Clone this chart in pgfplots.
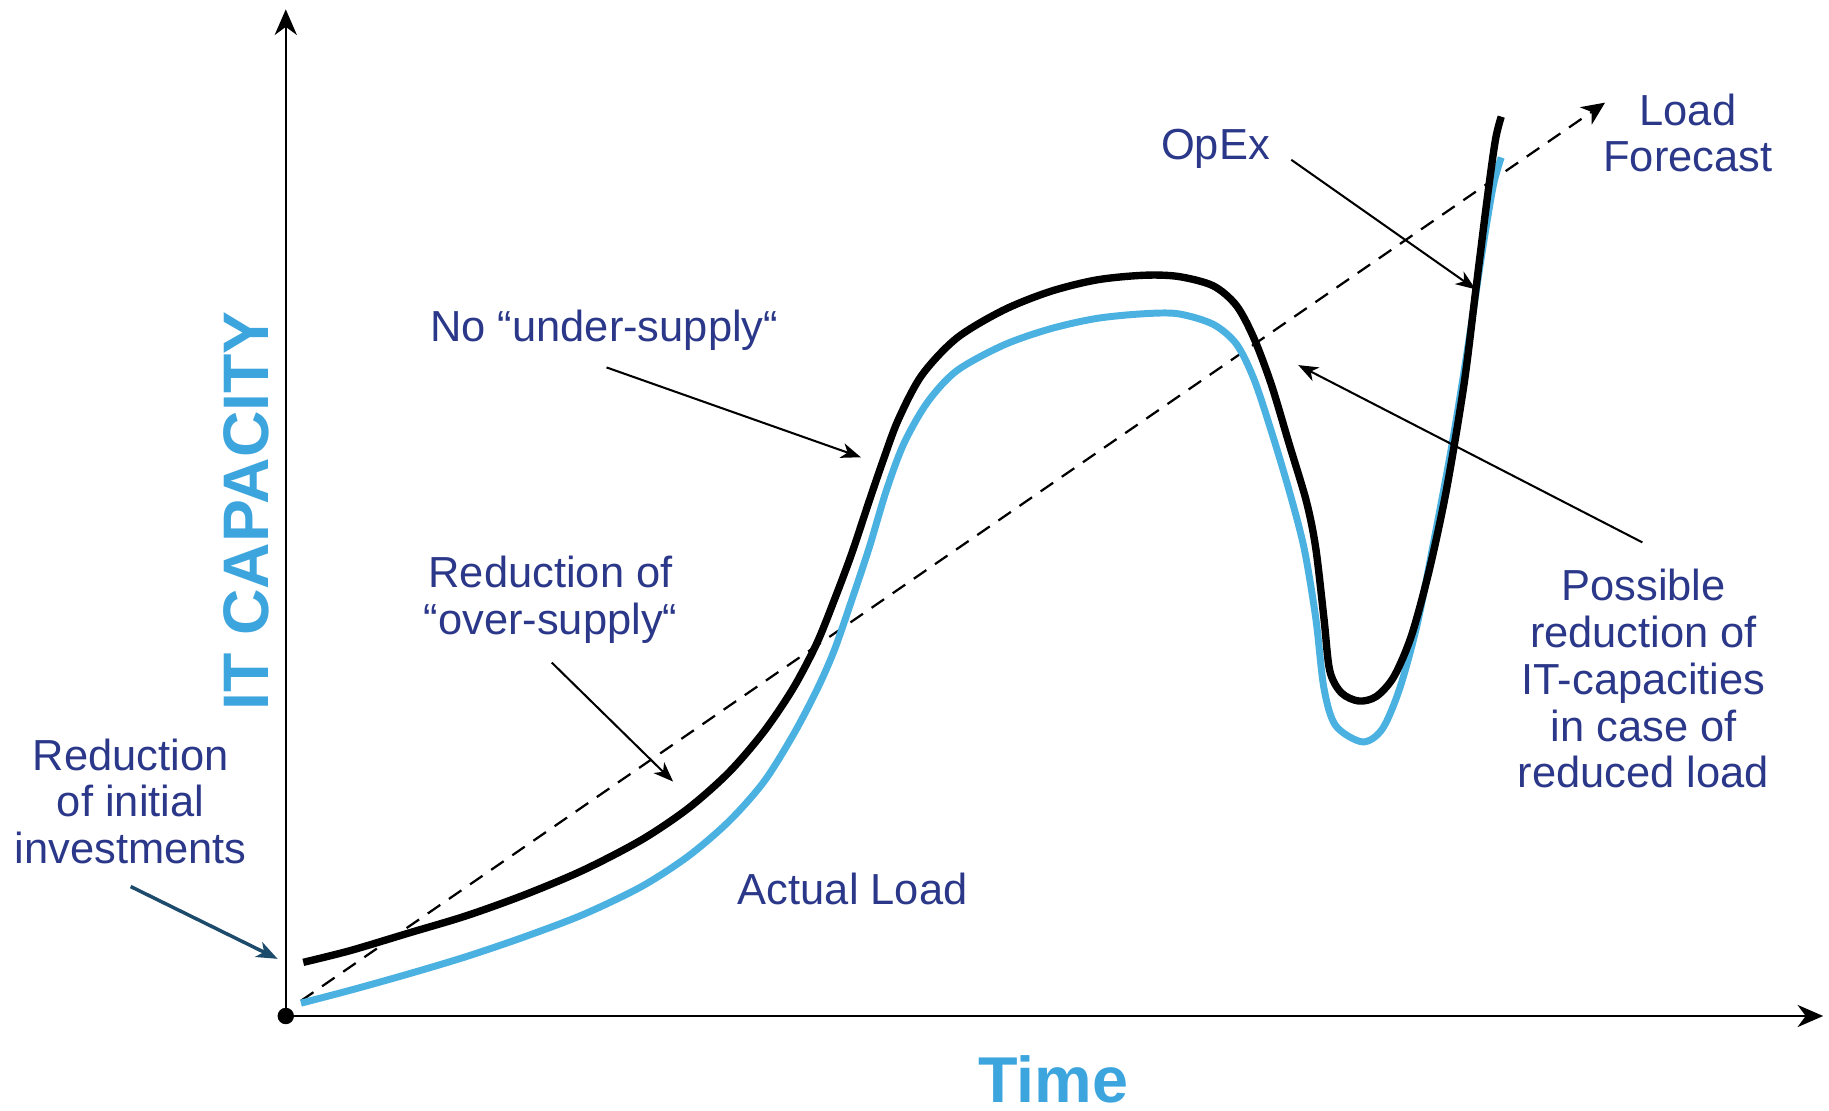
\documentclass[border=0pt]{standalone}
\usepackage{fontspec}
\setmainfont{Liberation Sans}
\usepackage{pgfplots}
\pgfplotsset{compat=1.18}
\usetikzlibrary{arrows.meta}
\definecolor{navy}{HTML}{2B3889}
\definecolor{capblue}{HTML}{3DA5DD}
\definecolor{curveblue}{HTML}{4BB1E1}
\definecolor{teal}{HTML}{1D4B6C}
\begin{document}
\begin{tikzpicture}
\begin{axis}[scale only axis, width=15.68cm, height=9.52cm,
  xmin=0, xmax=1568, ymin=0, ymax=952, y dir=reverse,
  hide axis, clip=false]
\path[draw=none] (axis cs:0,0) rectangle (axis cs:1568,952);
% axes
\draw[line width=0.6pt, -{Stealth[length=2.2mm,width=1.9mm,inset=0.7mm]}] (axis cs:245,871) -- (axis cs:245,8);
\draw[line width=0.6pt, -{Stealth[length=2.2mm,width=1.9mm,inset=0.7mm]}] (axis cs:245,871) -- (axis cs:1563,871);
\addplot[only marks, mark=*, mark size=1.8pt, black] coordinates {(245,871)};
% dashed forecast
\addplot[black, line width=0.55pt, dash pattern=on 1.3mm off 0.9mm, -{Stealth[length=2mm,width=1.8mm,inset=0.6mm]}] coordinates {(258,858) (1376,88)};
% blue actual load
\addplot[curveblue, line width=1.7pt, smooth] coordinates {
(258,860) (300,849) (350,835) (400,820) (450,803) (500,784) (550,760) (590,734)
(625,704) (655,670) (680,630) (700,592) (715,558) (730,515) (745,470) (760,420) (775,380)
(795,345) (820,318) (860,296) (900,282) (940,273) (980,269) (1010,269) (1040,278)
(1060,295) (1075,325) (1090,370) (1105,420) (1118,470) (1128,530) (1135,590)
(1145,622) (1168,636) (1185,625) (1200,590) (1215,535) (1230,460) (1245,380)
(1258,300) (1270,220) (1280,160) (1287,135)};
% black capacity
\addplot[black, line width=1.8pt, smooth] coordinates {
(260,825) (300,815) (350,800) (400,785) (450,767) (500,746) (550,720) (590,693)
(625,662) (655,627) (680,590) (700,552) (715,515) (730,475) (745,430) (757,395) (770,360)
(790,322) (820,290) (860,266) (900,250) (940,240) (980,236) (1010,237) (1040,245)
(1060,262) (1075,290) (1090,330) (1105,380) (1120,430) (1128,470) (1135,530)
(1140,575) (1150,594) (1165,601) (1180,597) (1195,580) (1210,545) (1225,490)
(1240,420) (1255,330) (1265,250) (1275,170) (1282,120) (1287,100)};
% annotation arrows
\tikzset{ann/.style={line width=0.5pt, -{Stealth[length=1.7mm,width=1.3mm,inset=0.5mm]}}}
\draw[ann] (axis cs:1107,137) -- (axis cs:1265,248);
\draw[ann] (axis cs:520,315) -- (axis cs:738,392);
\draw[ann] (axis cs:473,568) -- (axis cs:577,670);
\draw[ann] (axis cs:1408,465) -- (axis cs:1113,313);
\draw[teal, line width=0.85pt, -{Stealth[length=1.8mm,width=1.4mm,inset=0.5mm]}] (axis cs:112,760) -- (axis cs:238,822);
% texts
\tikzset{lbl/.style={text=navy, align=center, inner sep=0pt, font=\fontsize{10.6}{11.4}\selectfont}}
\node[lbl] at (axis cs:1042,128) {OpEx};
\node[lbl] at (axis cs:1447,114) {Load\\Forecast};
\node[lbl] at (axis cs:518,283) {No “under-supply“};
\node[lbl] at (axis cs:472,514) {Reduction of\\“over-supply“};
\node[lbl] at (axis cs:112,687) {Reduction\\of initial\\investments};
\node[lbl] at (axis cs:731,762) {Actual Load};
\node[lbl] at (axis cs:1409,582) {Possible\\reduction of\\IT-capacities\\in case of\\reduced load};
\node[text=capblue, inner sep=0pt, rotate=90, font=\fontsize{15.7}{17}\selectfont\bfseries] at (axis cs:211,438) {IT CAPACITY};
\node[text=capblue, inner sep=0pt, font=\fontsize{15.8}{17}\selectfont\bfseries] at (axis cs:903,925) {Time};
\end{axis}
\end{tikzpicture}
\end{document}
